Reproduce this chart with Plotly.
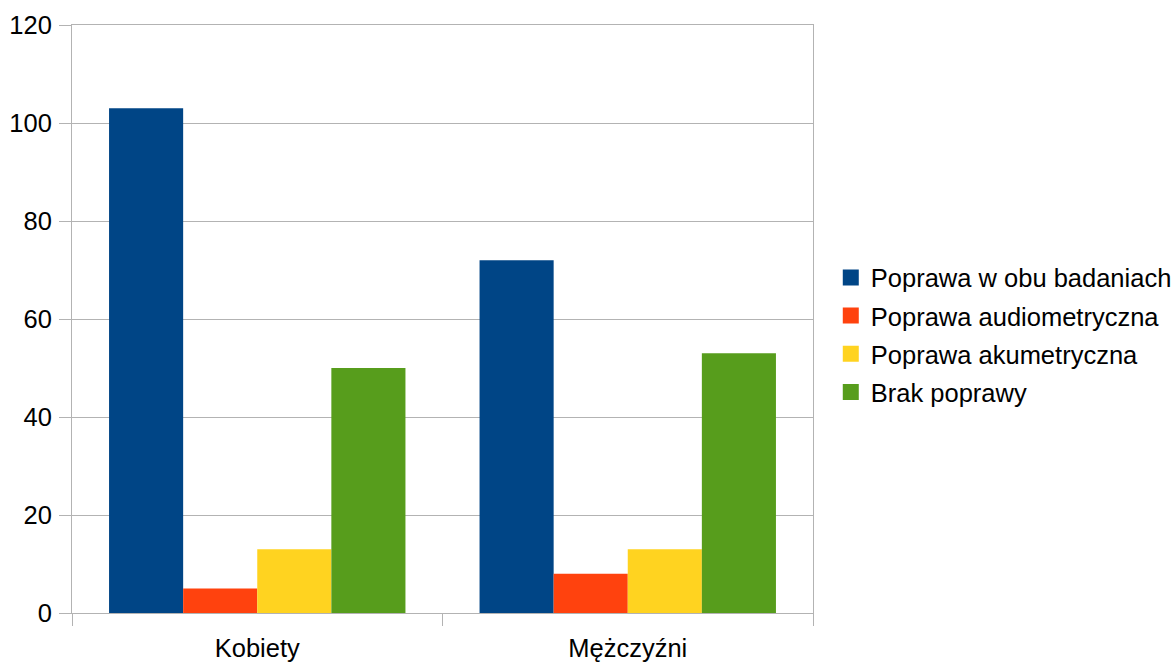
import plotly.graph_objects as go

# Groups and series
categories = ["Kobiety", "Mężczyźni"]
series_names = [
    "Poprawa w obu badaniach",
    "Poprawa audiometryczna",
    "Poprawa akumetryczna",
    "Brak poprawy",
]
obu_badaniach = [103, 72]
audiometryczna = [5, 8]
akumetryczna = [13, 13]
brak_poprawy = [50, 53]
y_ticks = [0, 20, 40, 60, 80, 100, 120]

colors = ["#004586", "#ff420e", "#ffd320", "#579d1c"]
values = [obu_badaniach, audiometryczna, akumetryczna, brak_poprawy]

FONT = "Liberation Sans, Arial, sans-serif"
GRID = "#b3b3b3"
FS = 25.5

fig = go.Figure()
for name, vals, col in zip(series_names, values, colors):
    fig.add_trace(go.Bar(
        x=categories, y=vals, name=name,
        marker=dict(color=col, line=dict(width=0)),
        showlegend=False, legendgroup=name,
    ))
# legend entries with larger square swatches
for name, col in zip(series_names, colors):
    fig.add_trace(go.Scatter(
        x=[None], y=[None], mode="markers", name=name, legendgroup=name,
        marker=dict(symbol="square", size=16, color=col),
    ))

fig.update_layout(
    width=1176, height=662,
    margin=dict(l=72, r=363, t=25, b=49, autoexpand=False),
    paper_bgcolor="white", plot_bgcolor="white",
    font=dict(family=FONT, size=FS, color="#000000"),
    barmode="group", bargap=0.2, bargroupgap=0,
    legend=dict(
        x=1.024, xanchor="left", y=0.473, yanchor="middle",
        font=dict(size=FS),
        itemclick=False, tracegroupgap=2,
    ),
    xaxis=dict(
        type="category", tickson="boundaries", automargin=False,
        ticks="outside", ticklen=12, tickcolor=GRID, tickwidth=1,
        showline=True, linecolor=GRID, linewidth=1, mirror=True,
        showgrid=False, tickfont=dict(size=FS), ticklabelstandoff=12,
    ),
    yaxis=dict(
        range=[0, 120], tickvals=y_ticks, automargin=False,
        ticks="outside", ticklen=12, tickcolor=GRID, tickwidth=1,
        showline=True, linecolor=GRID, linewidth=1, mirror=True,
        showgrid=True, gridcolor=GRID, gridwidth=1,
        zeroline=False, tickfont=dict(size=FS), ticklabelstandoff=2,
    ),
)

fig.write_html("out.html")
